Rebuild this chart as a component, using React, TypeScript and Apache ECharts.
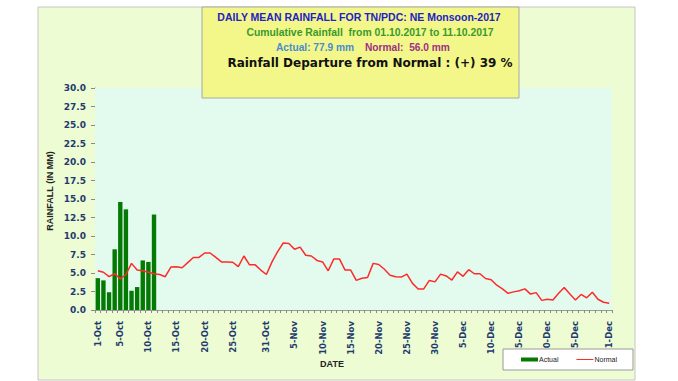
import React, { useEffect, useRef } from "react";
import * as echarts from "echarts";

const monthNames = ["Oct", "Nov", "Dec"];
const monthDays = [31, 30, 31];
const categories: string[] = [];
monthNames.forEach((m, i) => {
  for (let d = 1; d <= monthDays[i]; d++) categories.push(`${d}-${m}`);
});

const tickLabels = [
  "1-Oct", "5-Oct", "10-Oct", "15-Oct", "20-Oct", "25-Oct", "31-Oct",
  "5-Nov", "10-Nov", "15-Nov", "20-Nov", "25-Nov", "30-Nov",
  "5-Dec", "10-Dec", "15-Dec", "20-Dec", "25-Dec", "31-Dec",
];

const actualValues = [4.3, 4.0, 2.4, 8.2, 14.6, 13.6, 2.6, 3.1, 6.7, 6.5, 12.9];

const normalValues = [
  5.3, 5.1, 4.5, 4.9, 4.2, 4.8, 6.3, 5.4, 5.3, 5.1, 4.9, 4.8, 4.5, 5.8, 5.85, 5.7,
  6.4, 7.1, 7.1, 7.7, 7.7, 7.1, 6.5, 6.5, 6.45, 5.85, 7.3, 6.1, 6.1, 5.4, 4.8,
  6.5, 7.9, 9.05, 9.0, 8.2, 8.5, 7.4, 7.3, 6.7, 6.5, 5.3, 6.9, 6.9, 5.4, 5.4, 4.0,
  4.3, 4.4, 6.3, 6.15, 5.5, 4.7, 4.5, 4.45, 4.85, 3.6, 2.85, 2.85, 4.0, 3.8,
  4.85, 4.6, 4.05, 5.15, 4.55, 5.45, 4.9, 4.9, 4.25, 4.1, 3.35, 2.85, 2.25, 2.45,
  2.6, 2.85, 2.15, 2.35, 1.3, 1.45, 1.35, 2.25, 3.05, 2.15, 1.35, 2.1, 1.65, 2.4,
  1.45, 1.05, 0.9,
];

const titleLines = [
  "DAILY MEAN RAINFALL FOR TN/PDC: NE Monsoon-2017",
  "Cumulative Rainfall  from 01.10.2017 to 11.10.2017",
  "Actual: 77.9 mm",
  "Normal:  56.0 mm",
  "Rainfall Departure from Normal : (+) 39 %",
];

const FONT = "'Liberation Sans', Arial, sans-serif";
const AXFONT = "'DejaVu Sans', Verdana, sans-serif";

export default function App() {
  const ref = useRef<HTMLDivElement>(null);
  useEffect(() => {
    if (!ref.current) return;
    const chart = echarts.init(ref.current, undefined, { renderer: "svg" });
    const tickSet = new Set(tickLabels);
    const actualData = categories.map((_, i) => (i < actualValues.length ? actualValues[i] : null));
    chart.setOption({
      animation: false,
      backgroundColor: "#ffffff",
      textStyle: { fontFamily: FONT },
      grid: {
        left: 95,
        right: 66,
        top: 88,
        bottom: 71,
        show: true,
        backgroundColor: "#e2fbee",
        borderWidth: 0,
        z: 1,
      },
      graphic: [
        {
          type: "rect",
          z: -10,
          silent: true,
          shape: { x: 38, y: 7, width: 597, height: 373 },
          style: { fill: "#eefcd3", stroke: "#c4c4c4", lineWidth: 1 },
        },
        {
          type: "rect",
          z: 10,
          shape: { x: 202, y: 7, width: 317, height: 91 },
          style: { fill: "#f3f78a", stroke: "#a8a8a8", lineWidth: 1 },
        },
        {
          type: "text",
          z: 11,
          x: 359,
          y: 17,
          style: {
            text: titleLines[0],
            fill: "#2222c4",
            font: `bold 10.5px ${FONT}`,
            align: "center",
            verticalAlign: "middle",
          },
        },
        {
          type: "text",
          z: 11,
          x: 370,
          y: 32,
          style: {
            text: titleLines[1],
            fill: "#3a9a2a",
            font: `bold 10.4px ${FONT}`,
            align: "center",
            verticalAlign: "middle",
          },
        },
        {
          type: "text",
          z: 11,
          x: 276,
          y: 47,
          style: {
            text: titleLines[2],
            fill: "#4a8ccc",
            font: `bold 10.2px ${FONT}`,
            align: "left",
            verticalAlign: "middle",
          },
        },
        {
          type: "text",
          z: 11,
          x: 365,
          y: 47,
          style: {
            text: titleLines[3],
            fill: "#9e2f86",
            font: `bold 10.2px ${FONT}`,
            align: "left",
            verticalAlign: "middle",
          },
        },
        {
          type: "text",
          z: 11,
          x: 370,
          y: 63,
          style: {
            text: titleLines[4],
            fill: "#111111",
            font: `bold 12px 'DejaVu Sans', ${FONT}`,
            align: "center",
            verticalAlign: "middle",
          },
        },
        {
          type: "text",
          z: 11,
          x: 50,
          y: 191,
          rotation: Math.PI / 2,
          style: {
            text: "RAINFALL (IN MM)",
            fill: "#222222",
            font: `bold 9px ${FONT}`,
            align: "center",
            verticalAlign: "middle",
          },
        },
        {
          type: "text",
          z: 11,
          x: 332,
          y: 364,
          style: {
            text: "DATE",
            fill: "#222222",
            font: `bold 9px ${FONT}`,
            align: "center",
            verticalAlign: "middle",
          },
        },
      ],
      legend: {
        left: 503,
        top: 349,
        width: 124,
        height: 21,
        padding: [7, 16, 7, 18],
        itemGap: 18,
        itemWidth: 17,
        itemHeight: 4,
        backgroundColor: "#ffffff",
        borderColor: "#999999",
        borderWidth: 1,
        textStyle: { fontSize: 7, color: "#222222", fontFamily: FONT, padding: [0, 0, 0, -4] },
        data: [
          { name: "Actual", icon: "rect" },
          { name: "Normal", icon: "path://M0,0 L20,0 L20,1.2 L0,1.2 Z", itemStyle: { color: "#ff2a2a" } },
        ],
        z: 20,
      },
      xAxis: {
        type: "category",
        data: categories,
        boundaryGap: true,
        axisLine: { lineStyle: { color: "#9a9a9a", width: 1 } },
        axisTick: { show: true, interval: 0, length: 3, lineStyle: { color: "#8a8a8a" } },
        axisLabel: {
          interval: (_i: number, v: string) => tickSet.has(v),
          rotate: 90,
          margin: 11,
          fontSize: 8.5,
          fontWeight: "bold",
          color: "#1f3a70",
          fontFamily: AXFONT,
        },
        splitLine: { show: false },
      },
      yAxis: {
        type: "value",
        min: 0,
        max: 30,
        interval: 2.5,
        axisLine: { show: true, lineStyle: { color: "#9a9a9a", width: 1 } },
        axisTick: { show: true, length: 4, lineStyle: { color: "#8a8a8a" } },
        axisLabel: {
          formatter: (v: number) => v.toFixed(1),
          fontSize: 9,
          fontWeight: "bold",
          color: "#1f3a70",
          margin: 9,
          fontFamily: AXFONT,
        },
        splitLine: { show: false },
      },
      series: [
        {
          name: "Actual",
          type: "bar",
          data: actualData,
          barWidth: "78%",
          itemStyle: { color: "#047a04" },
          z: 3,
        },
        {
          name: "Normal",
          type: "line",
          data: normalValues,
          symbol: "none",
          lineStyle: { color: "#ff2a2a", width: 1.5 },
          itemStyle: { color: "#ff2a2a" },
          z: 4,
        },
      ],
    });
    return () => chart.dispose();
  }, []);
  return (
    <div
      ref={ref}
      style={{ position: "fixed", left: 0, top: 0, width: 678, height: 381 }}
    />
  );
}
